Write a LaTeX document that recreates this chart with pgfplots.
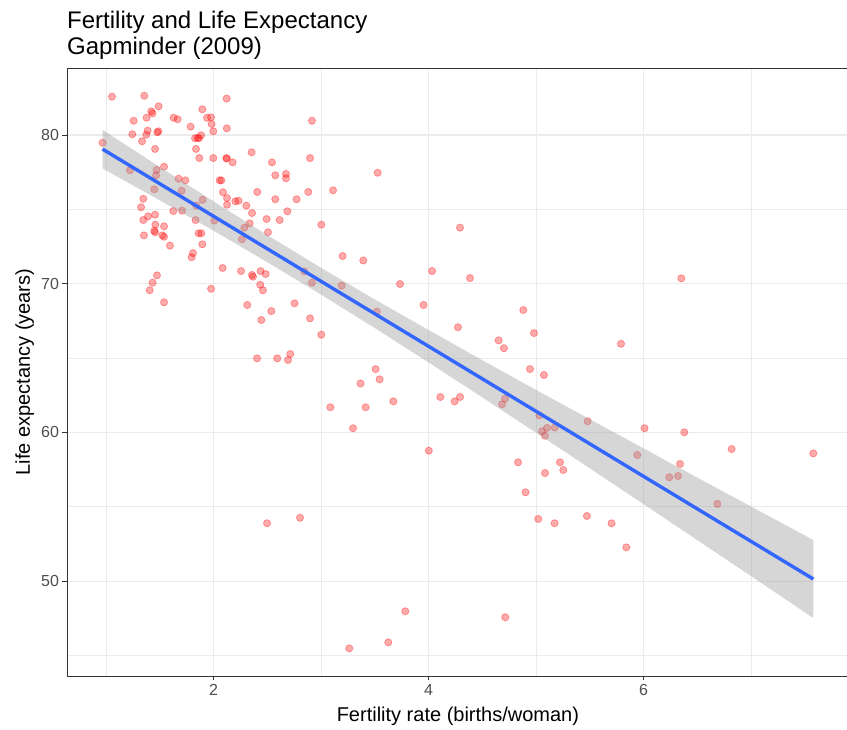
\documentclass[border=0pt]{standalone}
\usepackage{fontspec}
\setmainfont{Liberation Sans}
\usepackage{pgfplots}
\pgfplotsset{compat=1.18}
\definecolor{gridc}{HTML}{EBEBEB}
\definecolor{axc}{HTML}{333333}
\definecolor{tickc}{HTML}{4D4D4D}
\definecolor{smoothc}{HTML}{3366FF}
\definecolor{bandc}{HTML}{999999}
\begin{document}
\begin{tikzpicture}
\begin{axis}[
  name=ax, at={(0,0)}, anchor=south west,
  scale only axis, width=781.8pt, height=607.9pt,
  xmin=0.637, xmax=7.91, ymin=43.62, ymax=84.50,
  xtick={2,4,6}, ytick={50,60,70,80},
  minor xtick={1,3,5,7}, minor ytick={45,55,65,75},
  grid=both,
  major grid style={draw=gridc, line width=1.1pt},
  minor grid style={draw=gridc, line width=0.6pt},
  axis line style={draw=axc, line width=0.8pt},
  tick align=outside, major tick length=4.5pt, minor tick length=0pt,
  xtick pos=lower, ytick pos=left,
  major tick style={draw=axc, line width=0.8pt},
  ticklabel style={font=\fontsize{16}{16}\selectfont, text=tickc},
  /pgf/number format/assume math mode=true,
  clip mode=individual,
]
\addplot[only marks, mark=*, mark size=3.6pt,
  mark options={fill=red, draw=red, fill opacity=0.33, draw opacity=0.33, line width=0.8pt}]
table[row sep=\\]{
x y\\
1.056 82.58\\ 1.356 82.64\\ 2.122 82.45\\ 1.489 81.93\\ 1.421 81.59\\ 1.433 81.46\\
1.896 81.73\\ 1.257 80.96\\ 1.378 81.16\\ 1.629 81.16\\ 1.666 81.06\\ 1.940 81.16\\
1.977 81.19\\ 1.982 80.74\\ 1.787 80.56\\ 2.124 80.45\\ 1.245 80.05\\ 1.387 80.29\\
1.375 80.02\\ 1.477 80.18\\ 1.487 80.25\\ 1.998 80.25\\ 1.884 79.98\\ 1.852 79.80\\
1.828 79.78\\ 1.865 79.78\\ 1.335 79.58\\ 0.968 79.48\\ 1.837 79.06\\ 1.456 79.06\\
1.868 78.45\\ 1.998 78.45\\ 2.119 78.45\\ 2.124 78.42\\ 2.178 78.16\\ 1.540 77.87\\
1.471 77.65\\ 1.223 77.63\\ 1.465 77.29\\ 1.675 77.06\\ 1.738 76.95\\ 2.057 76.95\\
2.073 76.95\\ 1.449 76.35\\ 1.703 76.25\\ 2.088 76.15\\ 1.347 75.71\\ 1.898 75.64\\
1.326 75.14\\ 1.840 75.25\\ 2.126 75.31\\ 2.126 75.76\\ 1.626 74.89\\ 1.707 74.91\\
1.347 74.28\\ 1.391 74.53\\ 1.456 74.64\\ 1.833 74.28\\ 2.007 74.24\\ 1.459 73.97\\
1.540 73.86\\ 1.449 73.56\\ 1.456 73.46\\ 1.861 73.39\\ 1.887 73.39\\ 1.353 73.25\\
1.524 73.25\\ 1.540 73.16\\ 1.896 72.65\\ 1.595 72.56\\ 1.809 72.06\\ 1.796 71.78\\
2.085 71.06\\ 1.474 70.56\\ 1.433 70.07\\ 1.406 69.56\\ 1.977 69.66\\ 1.540 68.75\\
2.916 80.96\\ 2.354 78.84\\ 2.898 78.45\\ 2.544 78.16\\ 2.575 77.29\\ 2.674 77.38\\
2.674 77.09\\ 2.407 76.17\\ 2.882 76.17\\ 3.112 76.28\\ 2.203 75.54\\ 2.233 75.58\\
2.305 75.25\\ 2.575 75.68\\ 2.773 75.68\\ 2.358 74.75\\ 2.687 74.87\\ 2.494 74.35\\
2.615 74.28\\ 2.336 74.06\\ 2.287 73.77\\ 3.003 73.97\\ 2.507 73.46\\ 2.265 72.99\\
3.201 71.86\\ 3.393 71.56\\ 2.256 70.85\\ 2.358 70.59\\ 2.367 70.47\\ 2.438 70.85\\
2.485 70.65\\ 2.845 70.83\\ 2.435 69.93\\ 2.460 69.56\\ 2.916 70.07\\ 3.192 69.87\\
2.314 68.57\\ 2.754 68.68\\ 2.538 68.16\\ 2.445 67.56\\ 2.898 67.67\\ 3.519 68.12\\
3.003 66.57\\ 2.405 64.98\\ 2.593 64.98\\ 2.693 64.87\\ 2.714 65.27\\ 3.508 64.26\\
3.545 63.57\\ 3.368 63.29\\ 3.673 62.09\\ 3.087 61.69\\ 3.415 61.69\\ 3.298 60.28\\
3.527 77.46\\ 4.293 73.77\\ 4.033 70.85\\ 4.386 70.38\\ 3.735 69.98\\ 3.954 68.57\\
4.882 68.23\\ 4.274 67.07\\ 4.981 66.68\\ 4.652 66.19\\ 4.702 65.66\\ 4.944 64.26\\
5.074 63.86\\ 4.110 62.38\\ 4.243 62.09\\ 4.293 62.38\\ 4.712 62.27\\ 4.684 61.89\\
5.031 61.15\\ 5.102 60.30\\ 5.056 60.07\\ 5.084 59.78\\ 5.175 60.33\\ 4.003 58.77\\
6.352 70.36\\ 5.791 65.96\\ 5.480 60.75\\ 6.010 60.28\\ 6.380 60.01\\ 6.820 58.88\\
7.580 58.59\\ 5.942 58.48\\ 4.833 57.99\\ 5.084 57.27\\ 5.223 57.99\\ 5.254 57.47\\
4.903 55.97\\ 6.340 57.88\\ 6.240 56.98\\ 6.321 57.07\\ 6.687 55.19\\ 5.021 54.18\\
5.173 53.89\\ 5.474 54.38\\ 5.703 53.89\\ 5.840 52.27\\ 2.498 53.89\\ 2.805 54.26\\
3.784 47.97\\ 3.626 45.88\\ 3.263 45.48\\ 4.714 47.57\\
};
% confidence band: upper edge left to right, then lower edge right to left
\addplot[draw=none, fill=bandc, fill opacity=0.4] coordinates {
(0.968,80.35) (1.5,77.85) (2,75.54) (2.5,73.27) (3,71.07) (3.5,68.94) (4,66.89)
(4.5,64.86) (5,62.86) (5.5,60.89) (6,58.93) (6.5,56.96) (7,55.02) (7.58,52.76)
(7.58,47.52) (7,50.34) (6.5,52.76) (6,55.18) (5.5,57.59) (5,59.98) (4.5,62.36)
(4,64.71) (3.5,67.02) (3,69.27) (2.5,71.45) (2,73.57) (1.5,75.61) (0.968,77.75)
} -- cycle;
\addplot[smoothc, line width=3.4pt] coordinates {(0.968,79.05) (7.58,50.14)};
\end{axis}
\path (ax.north west) ++(0pt,40pt) node[anchor=base west, inner sep=0pt,
  font=\fontsize{24}{28}\selectfont] {Fertility and Life Expectancy};
\path (ax.north west) ++(0pt,14pt) node[anchor=base west, inner sep=0pt,
  font=\fontsize{24}{28}\selectfont] {Gapminder (2009)};
\path (ax.south) ++(0pt,-46pt) node[anchor=base, inner sep=0pt,
  font=\fontsize{20}{24}\selectfont] {Fertility rate (births/woman)};
\path (ax.west) ++(-37pt,0pt) node[rotate=90, anchor=base, inner sep=0pt,
  font=\fontsize{20}{24}\selectfont] {Life expectancy (years)};
\pgfresetboundingbox
\path[use as bounding box] (ax.south west) ++(-67pt,-54pt) rectangle ++(847pt,730pt);
\end{tikzpicture}
\end{document}
